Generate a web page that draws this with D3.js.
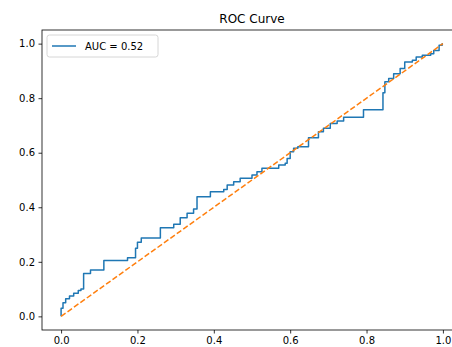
<html>
<head>
  <script src="https://d3js.org/d3.v7.min.js"></script>
  <style>
    body { margin: 0; background: #fff; }
    text { font-family: "DejaVu Sans", sans-serif; }
  </style>
</head>
<body>
<svg width="452" height="347"></svg>
<script>
// ROC curve corners: at each fpr the tpr jumps to the listed value
var fpr = [0, 0, 0.005, 0.012, 0.022, 0.033, 0.045, 0.052, 0.059, 0.077, 0.112, 0.174, 0.195, 0.2, 0.21,
           0.26, 0.295, 0.312, 0.33, 0.347, 0.356, 0.391, 0.426, 0.435, 0.452, 0.469, 0.5, 0.513, 0.526,
           0.57, 0.587, 0.592, 0.6, 0.609, 0.62, 0.648, 0.674, 0.687, 0.705, 0.723, 0.74, 0.792, 0.843,
           0.848, 0.858, 0.871, 0.888, 0.9, 0.92, 0.93, 0.946, 0.968, 0.976, 0.99, 0.998, 1];
var tpr = [0, 0.03, 0.05, 0.065, 0.075, 0.085, 0.095, 0.10, 0.157, 0.17, 0.205, 0.215, 0.25, 0.272, 0.287,
           0.325, 0.338, 0.362, 0.378, 0.394, 0.439, 0.457, 0.465, 0.482, 0.494, 0.506, 0.518, 0.53, 0.543,
           0.555, 0.561, 0.579, 0.604, 0.616, 0.622, 0.655, 0.677, 0.69, 0.707, 0.716, 0.73, 0.758, 0.82,
           0.86, 0.872, 0.89, 0.909, 0.933, 0.939, 0.951, 0.957, 0.963, 0.975, 0.994, 1.0, 1.0];
var chance = [0, 1];
var ticks = [0, 0.2, 0.4, 0.6, 0.8, 1.0];
var title = "ROC Curve";
var legendLabel = "AUC = 0.52";

var svg = d3.select("svg");

// plot box (right side of the original figure is cut off)
var mLeft = 42, mRight = 462, mTop = 30, mBottom = 330;

var x = d3.scaleLinear().domain([-0.05, 1.05]).range([mLeft, mRight]);
var y = d3.scaleLinear().domain([-0.05, 1.05]).range([mBottom, mTop]);

var pts = fpr.map(function(d, i) { return [d, tpr[i]]; });

var line = d3.line()
    .x(function(d) { return x(d[0]); })
    .y(function(d) { return y(d[1]); });

svg.append("path")
    .attr("d", line.curve(d3.curveStepAfter)(pts))
    .attr("fill", "none")
    .attr("stroke", "#1f77b4")
    .attr("stroke-width", 1.5)
    .attr("stroke-linejoin", "round");

svg.append("path")
    .attr("d", d3.line().x(function(d) { return x(d); }).y(function(d) { return y(d); })(chance))
    .attr("fill", "none")
    .attr("stroke", "#ff7f0e")
    .attr("stroke-width", 1.5)
    .attr("stroke-dasharray", "5.5,2.4");

// axes
var xAxis = svg.append("g")
    .attr("transform", "translate(0," + mBottom + ")")
    .call(d3.axisBottom(x).tickValues(ticks).tickFormat(d3.format(".1f")).tickSize(3.5).tickPadding(3.5));
var yAxis = svg.append("g")
    .attr("transform", "translate(" + mLeft + ",0)")
    .call(d3.axisLeft(y).tickValues(ticks).tickFormat(d3.format(".1f")).tickSize(3.5).tickPadding(3.5));

[xAxis, yAxis].forEach(function(g) {
  g.select(".domain").remove();
  g.selectAll("line").attr("stroke", "#000").attr("stroke-width", 0.8);
  g.selectAll("text").attr("font-size", 10).attr("fill", "#000")
      .attr("font-family", "DejaVu Sans, sans-serif");
});

// frame
svg.append("rect")
    .attr("x", mLeft).attr("y", mTop)
    .attr("width", mRight - mLeft).attr("height", mBottom - mTop)
    .attr("fill", "none")
    .attr("stroke", "#000")
    .attr("stroke-width", 0.8);

svg.append("text")
    .attr("x", (mLeft + mRight) / 2)
    .attr("y", mTop - 7)
    .attr("text-anchor", "middle")
    .attr("font-size", 12)
    .text(title);

// legend
var lg = svg.append("g").attr("transform", "translate(" + (mLeft + 5) + "," + (mTop + 5) + ")");
lg.append("rect")
    .attr("width", 111).attr("height", 22)
    .attr("rx", 2.5)
    .attr("fill", "#fff").attr("fill-opacity", 0.8)
    .attr("stroke", "#ccc").attr("stroke-width", 0.8);
lg.append("line")
    .attr("x1", 5).attr("x2", 29)
    .attr("y1", 11).attr("y2", 11)
    .attr("stroke", "#1f77b4").attr("stroke-width", 1.5);
lg.append("text")
    .attr("x", 38).attr("y", 11)
    .attr("dy", "0.35em")
    .attr("font-size", 10)
    .text(legendLabel);
</script>
</body>
</html>
